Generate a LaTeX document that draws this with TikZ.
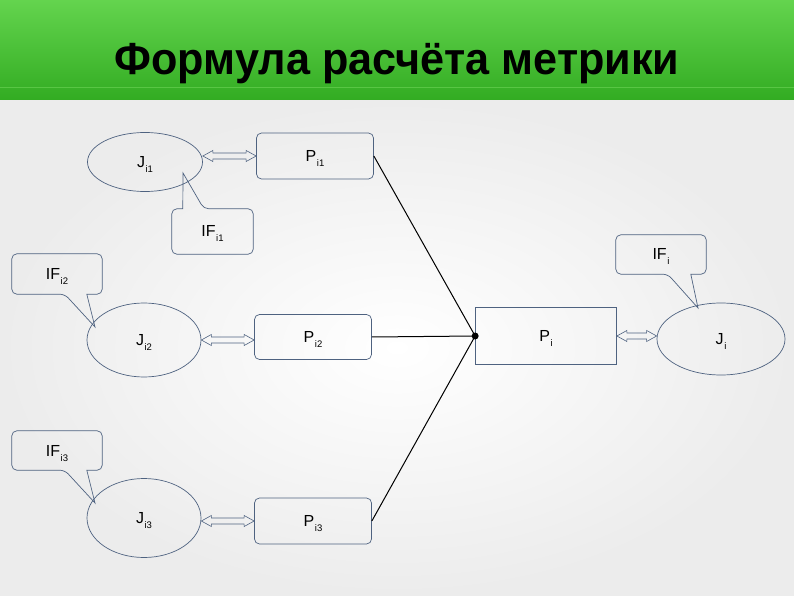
\documentclass[tikz,border=0pt]{standalone}
\usepackage{fontspec}
\setmainfont{Liberation Sans}
\usetikzlibrary{positioning,calc,shapes.geometric}
\definecolor{bandtop} {RGB}{100,212, 78}
\definecolor{bandbot} {RGB}{ 50,172, 34}
\definecolor{bandline}{RGB}{120,220, 96}
\definecolor{pagegray}{RGB}{236,236,236}
\definecolor{boxline} {RGB}{ 78, 98,128}
\newcommand\idx[1]{\kern0.6pt\raisebox{-5pt}{\fontsize{9.5}{10}\selectfont #1}}
\tikzset{
  lbl/.style={font=\fontsize{16}{18}\selectfont,text=black,
              text height=11pt,text depth=0pt},
  job/.style={ellipse,draw=boxline,line width=0.7pt,inner sep=0pt,lbl},
  proc/.style={rectangle,draw=boxline,line width=0.7pt,rounded corners=5pt,
               inner sep=0pt,minimum width=117pt,minimum height=46pt,lbl},
  procmain/.style={proc,sharp corners,minimum width=141pt,minimum height=57pt},
  ifbox/.style={rectangle,inner sep=0pt,minimum width=90pt,minimum height=39pt,lbl},
  bubble/.style={draw=boxline,line width=0.7pt},
  link/.style={black,line width=1pt},
  dblarr/.style={draw=boxline,line width=0.6pt},
}
\newcommand\hollowarr[2]{%
  \draw[dblarr] let \p1=#1, \p2=#2 in
    (\x1,\y1) -- (\x1+10pt,\y1+5.5pt) -- (\x1+10pt,\y1+3pt) -- (\x2-10pt,\y1+3pt)
    -- (\x2-10pt,\y1+5.5pt) -- (\x2,\y1) -- (\x2-10pt,\y1-5.5pt) -- (\x2-10pt,\y1-3pt)
    -- (\x1+10pt,\y1-3pt) -- (\x1+10pt,\y1-5.5pt) -- cycle;}
\begin{document}
\begin{tikzpicture}[x=1pt,y=1pt]
  \useasboundingbox (0,0) rectangle (794,595);
  \shade[inner color=white,outer color=pagegray] (0,0) rectangle (794,495);
  \shade[top color=bandtop,bottom color=bandbot] (0,495) rectangle (794,595);
  \draw[bandline,line width=0.8pt,opacity=0.5] (0,508) -- (794,508);
  \node[font=\fontsize{45}{50}\selectfont\bfseries,anchor=base,inner sep=0pt] (title)
    at (397,520) {\scalebox{0.96}[1]{Формула расчёта метрики}};

  \node[job,minimum width=115pt,minimum height=59pt] (ji1) at (145,433) {J\idx{i1}};
  \node[proc] (pi1) at (315,439) {P\idx{i1}};
  \node[job,minimum width=114pt,minimum height=74pt] (ji2) at (144,255) {J\idx{i2}};
  \node[proc,minimum height=45pt] (pi2) at (313,258) {P\idx{i2}};
  \node[job,minimum width=114pt,minimum height=79pt] (ji3) at (144,77) {J\idx{i3}};
  \node[proc] (pi3) at (313,74) {P\idx{i3}};
  \node[procmain] (pi) at (546,259) {P\idx{i}};
  \node[job,minimum width=128pt,minimum height=72pt] (ji) at (721,256) {J\idx{i}};

  \node[ifbox,minimum width=81pt,minimum height=45pt] (ifi1) at (212.5,363.5) {IF\idx{i1}};
  \node[ifbox,minimum height=40pt] (ifi2) at (57,321) {IF\idx{i2}};
  \node[ifbox] (ifi3) at (57,144.5) {IF\idx{i3}};
  \node[ifbox] (ifi) at (661,340.5) {IF\idx{i}};

  \coordinate (tipi1) at ($(ji1)+(38,-11)$);
  \coordinate (tipi2) at ($(ji2)+(-49,13)$);
  \coordinate (tipi3) at ($(ji3)+(-49,15)$);
  \coordinate (tipi)  at ($(ji)+(-23,31)$);
  \draw[bubble] ($(ifi1.north west)+(11,0)$) [rounded corners=5pt] -| (ifi1.south west)
    -| (ifi1.north east) -- ($(ifi1.north west)+(32,0)$) [sharp corners] -- (tipi1) -- cycle;
  \draw[bubble] ($(ifi2.south west)+(75,0)$) [rounded corners=5pt] -| (ifi2.north east)
    -| (ifi2.south west) -- ($(ifi2.south west)+(53,0)$) [sharp corners] -- (tipi2) -- cycle;
  \draw[bubble] ($(ifi3.south west)+(75,0)$) [rounded corners=5pt] -| (ifi3.north east)
    -| (ifi3.south west) -- ($(ifi3.south west)+(53,0)$) [sharp corners] -- (tipi3) -- cycle;
  \draw[bubble] ($(ifi.south west)+(75,0)$) [rounded corners=5pt] -| (ifi.north east)
    -| (ifi.south west) -- ($(ifi.south west)+(52,0)$) [sharp corners] -- (tipi) -- cycle;

  \hollowarr{(ji1.east |- pi1.west)}{(pi1.west)}
  \hollowarr{(ji2.east)}{(pi2.west |- ji2.east)}
  \hollowarr{(ji3.east |- pi3.west)}{(pi3.west)}
  \hollowarr{(pi.east)}{(ji.west |- pi.east)}

  \node[circle,fill=black,inner sep=0pt,minimum size=7pt] (hub) at (pi.west) {};
  \draw[link] (pi1.east) -- (hub.center);
  \draw[link] (pi2.east) -- (hub.center);
  \draw[link] (pi3.east) -- (hub.center);
\end{tikzpicture}
\end{document}
